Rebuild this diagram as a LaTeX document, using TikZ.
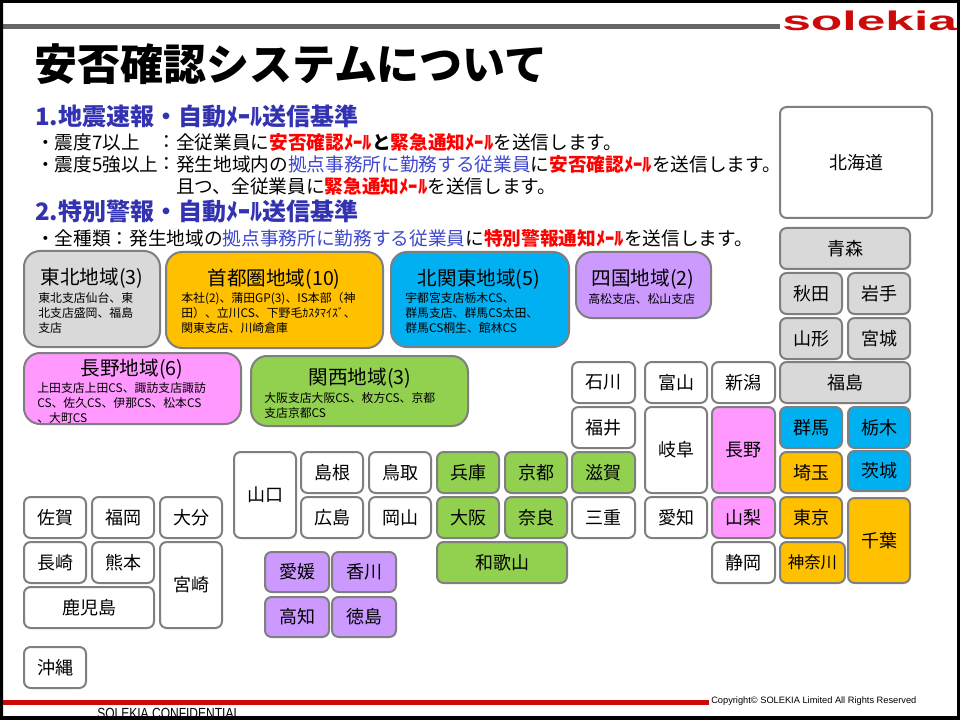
\documentclass[tikz,border=0pt]{standalone}
\usepackage{fontspec}
\setmainfont{Noto Sans CJK JP}
\newfontfamily\logofont{Liberation Sans}
\definecolor{cgray}{HTML}{D9D9D9}
\definecolor{cblue}{HTML}{00B0F0}
\definecolor{corange}{HTML}{FFC000}
\definecolor{cpink}{HTML}{FF99FF}
\definecolor{cgreen}{HTML}{92D050}
\definecolor{cpurple}{HTML}{CC99FF}
\definecolor{cedge}{HTML}{7F7F7F}
\definecolor{chead}{HTML}{3333B2}
\definecolor{clink}{HTML}{3F48CC}
\definecolor{clogo}{HTML}{CC0A0A}
\definecolor{cbar}{HTML}{666666}
\newcommand{\fs}[1]{\fontsize{#1}{#1}\selectfont}
\newcommand{\R}[1]{\textcolor{red}{\textbf{#1}}}
\newcommand{\Bl}[1]{\textcolor{clink}{#1}}
\newcommand{\pref}[7][white]{%
  \node[prefbox,fill=#1,minimum width=(#5-#3)*0.75pt,minimum height=(#6-#4)*0.75pt] (#2) at ({(#3+#5)/2},{(#4+#6)/2}) {\raisebox{-1.5pt}{#7}};}
\newcommand{\region}[6]{%
  \node[regionbox,fill=#1,minimum width=(#5-#3)*0.75pt,minimum height=(#6-#4)*0.75pt] (#2) at ({(#3+#5)/2},{(#4+#6)/2}) {};}
\newcommand{\rtext}[7]{%
  \node[regiontitle] (#1t) at (#2,#3) {#4};
  \node[regiondetail] (#1d) at (#5,#6-5) {#7};}
\tikzset{
  x=0.75pt,y=-0.75pt,
  prefbox/.style={draw=cedge,line width=1.5pt,rounded corners=5pt,inner sep=0pt,font=\fs{13.5}},
  regionbox/.style={draw=cedge,line width=1.5pt,rounded corners=12pt,inner sep=0pt},
  regiontitle/.style={inner sep=0pt,font=\fs{14.7}},
  regiondetail/.style={anchor=north west,inner sep=0pt,align=left,font=\fontsize{8.9}{11.2}\selectfont},
  bodytext/.style={anchor=west,inner sep=0pt,font=\fs{14}},
  headtext/.style={anchor=west,inner sep=0pt,text=chead,font=\fs{18}\bfseries},
}
\begin{document}
\begin{tikzpicture}
\useasboundingbox (0,0) rectangle (960,720);
\fill[white] (0,0) rectangle (960,720);
% bars
\fill[cbar] (3,24) rectangle (780,29);
\fill[clogo] (3,700) rectangle (709,705);
\node[anchor=base west,inner sep=0pt,text=clogo,font=\logofont\bfseries\fontsize{20.25}{20.25}\selectfont] (logo) at (782,31) {\scalebox{1.91}[1.0]{solekia}};
% title
\node[anchor=west,inner sep=0pt,font=\fs{32.25}\bfseries] (title) at (34,64) {安否確認システムについて};
% text block 1
\node[headtext] (h1) at (35,116) {1.地震速報・自動ﾒｰﾙ送信基準};
\node[bodytext] (a1) at (36,142.5) {・震度7以上};
\node[bodytext] (a1c) at (157,142.5) {：};
\node[bodytext] (a1b) at (176,142.5) {全従業員に\R{安否確認ﾒｰﾙ}\textbf{と}\R{緊急通知ﾒｰﾙ}を送信します。};
\node[bodytext] (a2) at (36,164.5) {・震度5強以上};
\node[bodytext] (a2c) at (157,164.5) {：};
\node[bodytext] (a2b) at (176,164.5) {発生地域内の\Bl{拠点事務所に勤務する従業員}に\R{安否確認ﾒｰﾙ}を送信します。};
\node[bodytext] (a3) at (176,186.5) {且つ、全従業員に\R{緊急通知ﾒｰﾙ}を送信します。};
\node[headtext] (h2) at (35,211) {2.特別警報・自動ﾒｰﾙ送信基準};
\node[bodytext] (b1) at (36,238.5) {・全種類：発生地域の\Bl{拠点事務所に勤務する従業員}に\R{特別警報通知ﾒｰﾙ}を送信します。};
% regions
\region{cgray}{rtohoku}{24}{251}{160}{347}
\rtext{rtohoku}{92}{278}{東北地域(3)}{38}{297}{東北支店仙台、東\\北支店盛岡、福島\\支店}
\region{corange}{rshuto}{166}{252}{383}{348}
\rtext{rshuto}{274}{279}{首都圏地域(10)}{181}{297}{本社(2)、蒲田GP(3)、IS本部（神\\田）、立川CS、下野毛ｶｽﾀﾏｲｽﾞ、\\関東支店、川崎倉庫}
\region{cblue}{rkita}{391}{252}{569}{347}
\rtext{rkita}{479}{279}{北関東地域(5)}{405}{297}{宇都宮支店栃木CS、\\群馬支店、群馬CS太田、\\群馬CS桐生、館林CS}
\region{cpurple}{rshikoku}{576}{252}{711}{318}
\rtext{rshikoku}{643}{279}{四国地域(2)}{588}{298}{高松支店、松山支店}
\region{cpink}{rnagano}{24}{353}{241}{424}
\rtext{rnagano}{132}{369}{長野地域(6)}{37}{387}{上田支店上田CS、諏訪支店諏訪\\CS、佐久CS、伊那CS、松本CS\\、大町CS}
\region{cgreen}{rkansai}{251}{356}{468}{426}
\rtext{rkansai}{360}{378}{関西地域(3)}{264}{397}{大阪支店大阪CS、枚方CS、京都\\支店京都CS}
% prefectures
\pref{hokkaido}{780}{107}{932}{218}{北海道}
\pref[cgray]{aomori}{780}{228}{910}{269}{青森}
\pref[cgray]{akita}{780}{273}{842}{314}{秋田}
\pref[cgray]{iwate}{848}{273}{910}{314}{岩手}
\pref[cgray]{yamagata}{780}{318}{842}{359}{山形}
\pref[cgray]{miyagi}{848}{318}{910}{359}{宮城}
\pref[cgray]{fukushima}{780}{362}{910}{403}{福島}
\pref[cblue]{gunma}{780}{407}{842}{448}{群馬}
\pref[cblue]{tochigi}{848}{407}{910}{448}{栃木}
\pref[corange]{saitama}{780}{452}{842}{493}{埼玉}
\pref[cblue]{ibaraki}{848}{451}{910}{491}{茨城}
\pref[corange]{tokyo}{780}{497}{842}{538}{東京}
\pref[corange]{chiba}{848}{498}{910}{583}{千葉}
\pref[corange]{kanagawa}{780}{542}{845}{583}{\fs{12.3}神奈川}
\pref{shizuoka}{712}{542}{775}{583}{静岡}
\pref[cpink]{yamanashi}{712}{497}{775}{538}{山梨}
\pref[cpink]{nagano}{712}{407}{775}{493}{長野}
\pref{niigata}{712}{362}{775}{403}{新潟}
\pref{toyama}{645}{362}{707}{403}{富山}
\pref{gifu}{645}{407}{707}{493}{岐阜}
\pref{aichi}{645}{497}{707}{538}{愛知}
\pref{ishikawa}{572}{362}{635}{403}{石川}
\pref{fukui}{572}{407}{635}{448}{福井}
\pref[cgreen]{shiga}{572}{452}{635}{493}{滋賀}
\pref{mie}{572}{497}{635}{538}{三重}
\pref[cgreen]{kyoto}{505}{452}{567}{493}{京都}
\pref[cgreen]{nara}{505}{497}{567}{538}{奈良}
\pref[cgreen]{hyogo}{437}{452}{499}{493}{兵庫}
\pref[cgreen]{osaka}{437}{497}{499}{538}{大阪}
\pref[cgreen]{wakayama}{437}{542}{567}{583}{和歌山}
\pref{shimane}{301}{452}{363}{493}{島根}
\pref{tottori}{369}{452}{431}{493}{鳥取}
\pref{hiroshima}{301}{497}{363}{538}{広島}
\pref{okayama}{369}{497}{431}{538}{岡山}
\pref{yamaguchi}{234}{452}{296}{538}{山口}
\pref{saga}{24}{497}{86}{538}{佐賀}
\pref{fukuoka}{92}{497}{154}{538}{福岡}
\pref{oita}{160}{497}{222}{538}{大分}
\pref{nagasaki}{24}{542}{86}{583}{長崎}
\pref{kumamoto}{92}{542}{154}{583}{熊本}
\pref{miyazaki}{160}{542}{222}{628}{宮崎}
\pref{kagoshima}{24}{587}{154}{628}{鹿児島}
\pref{okinawa}{24}{647}{86}{688}{沖縄}
\pref[cpurple]{ehime}{265}{552}{329}{592}{愛媛}
\pref[cpurple]{kagawa}{332}{552}{396}{592}{香川}
\pref[cpurple]{kochi}{265}{597}{329}{637}{高知}
\pref[cpurple]{tokushima}{332}{597}{396}{637}{徳島}
% footer
\node[anchor=west,inner sep=0pt,font=\logofont\fs{6.95}] (copy) at (711,701) {Copyright© SOLEKIA Limited All Rights Reserved};
\node[anchor=west,inner sep=0pt,font=\logofont\fs{11}] (conf) at (97,713) {\scalebox{0.82}[1]{SOLEKIA CONFIDENTIAL}};
% frame
\fill[black,even odd rule] (0,0) rectangle (960,720) (3,3) rectangle (957,716);
\end{tikzpicture}
\end{document}
